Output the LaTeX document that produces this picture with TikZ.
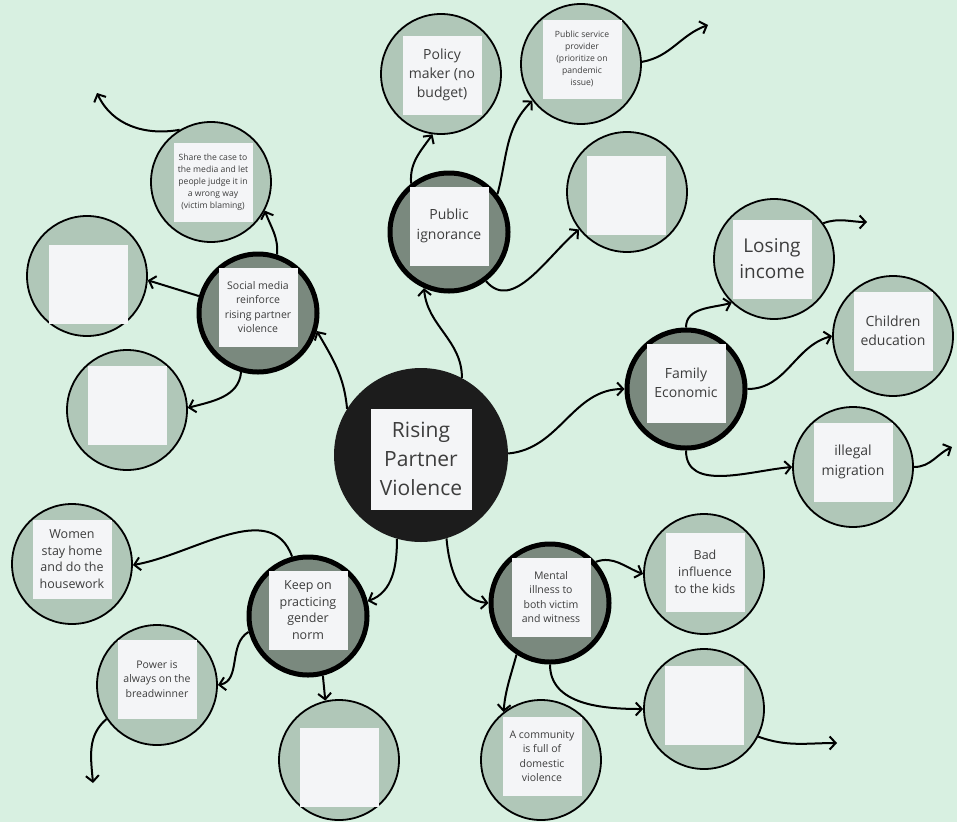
\documentclass[tikz,border=0pt]{standalone}
\usepackage{fontspec}
\setmainfont{Open Sans}
\usetikzlibrary{arrows.meta,positioning,shadows}

\definecolor{bg}{HTML}{D8F0E1}
\definecolor{leaffill}{HTML}{B0C7B8}
\definecolor{hubfill}{HTML}{7A897E}
\definecolor{corefill}{HTML}{1C1C1C}
\definecolor{cardfill}{HTML}{F4F5F7}
\definecolor{ink}{HTML}{3D3D3D}

\begin{document}
\begin{tikzpicture}[x=1pt,y=-1pt]
    \tikzset{
        leaf/.style         =   { circle
                                , draw=black
                                , line width=1.8pt
                                , fill=leaffill
                                , minimum size=120pt
                                , inner sep=0pt
                                }
        , hub/.style        =   { leaf
                                , line width=5pt
                                , fill=hubfill
                                , minimum size=118pt
                                }
        , core/.style       =   { circle
                                , fill=corefill
                                , minimum size=174pt
                                , inner sep=0pt
                                }
        , card/.style       =   { rectangle
                                , fill=cardfill
                                , text=ink
                                , align=center
                                , minimum size=79pt
                                , inner sep=0pt
                                , drop shadow={shadow xshift=0.8pt, shadow yshift=-0.8pt, fill=black, opacity=0.18}
                                }
        , tinytext/.style   =   { font=\fontsize{8.6}{12}\selectfont }
        , smalltext/.style  =   { font=\fontsize{10.5}{14.5}\selectfont }
        , midtext/.style    =   { font=\fontsize{12.5}{16.8}\selectfont }
        , bigtext/.style    =   { font=\fontsize{14}{19.3}\selectfont }
        , largetext/.style  =   { font=\fontsize{19}{26}\selectfont }
        , hugetext/.style   =   { font=\fontsize{21}{29}\selectfont }
        , arrow/.style      =   { line width=2pt
                                , -{Straight Barb[length=6pt,width=13pt]}
                                }
    }
    \useasboundingbox (0,0) rectangle (957,822);
    \fill[bg] (0,0) rectangle (957,822);

    % centre
    \node(1)[core] at (421,455) {};
    \node(c1)[card,hugetext,minimum size=101pt] at (421,459) {Rising\\Partner\\Violence};

    % social media branch
    \node(2)[hub] at (258,313) {};
    \node(c2)[card,smalltext] at (258,307) {Social media\\reinforce\\rising partner\\violence};
    \node(3)[leaf] at (211,182) {};
    \node(c3)[card,tinytext] at (213,182) {Share the case to\\the media and let\\people judge it in\\a wrong way\\(victim blaming)};
    \node(4)[leaf] at (87,276) {};
    \node(c4)[card] at (88,284) {};
    \node(5)[leaf] at (127,410) {};
    \node(c5)[card] at (127,405) {};

    % public ignorance branch
    \node(6)[hub] at (449,232) {};
    \node(c6)[card,bigtext] at (449,226) {Public\\ignorance};
    \node(7)[leaf] at (441,74) {};
    \node(c7)[card,bigtext] at (442,75) {Policy\\maker (no\\budget)};
    \node(8)[leaf] at (581,64) {};
    \node(c8)[card,tinytext] at (582,59) {Public service\\provider\\(prioritize on\\pandemic\\issue)};
    \node(9)[leaf] at (627,192) {};
    \node(c9)[card] at (626,195) {};

    % family economic branch
    \node(10)[hub] at (686,389) {};
    \node(c10)[card,bigtext] at (686,383) {Family\\Economic};
    \node(11)[leaf] at (774,259) {};
    \node(c11)[card,largetext] at (772,259) {Losing\\income};
    \node(12)[leaf] at (893,336) {};
    \node(c12)[card,bigtext] at (893,331) {Children\\education};
    \node(13)[leaf] at (853,467) {};
    \node(c13)[card,bigtext] at (853,462) {illegal\\migration};

    % gender norm branch
    \node(14)[hub] at (308,616) {};
    \node(c14)[card,midtext] at (308,610) {Keep on\\practicing\\gender\\norm};
    \node(15)[leaf] at (72,564) {};
    \node(c15)[card,midtext] at (72,559) {Women\\stay home\\and do the\\housework};
    \node(16)[leaf] at (157,685) {};
    \node(c16)[card,smalltext] at (157,679) {Power is\\always on the\\breadwinner};
    \node(17)[leaf] at (339,760) {};
    \node(c17)[card] at (339,767) {};

    % mental illness branch
    \node(18)[hub] at (550,603) {};
    \node(c18)[card,smalltext] at (551,597) {Mental\\illness to\\both victim\\and witness};
    \node(19)[leaf] at (704,574) {};
    \node(c19)[card,midtext] at (705,572) {Bad\\influence\\to the kids};
    \node(20)[leaf] at (704,709) {};
    \node(c20)[card] at (704,705) {};
    \node(21)[leaf] at (541,760) {};
    \node(c21)[card,smalltext] at (542,756) {A community\\is full of\\domestic\\violence};

    % loose ends
    \coordinate(e3) at (97,93);
    \coordinate(e8) at (708,25);
    \coordinate(e11) at (867,222);
    \coordinate(e13) at (952,447);
    \coordinate(e16) at (93,783);
    \coordinate(e20) at (837,743);

    \draw[arrow] (1.148) to[out=95,in=-60] (2.-17);
    \draw[arrow] (2.72) to[out=85,in=-70] (3.-28);
    \draw[arrow] (2.164) -- (4.-4);
    \draw[arrow] (2.-106) to[out=-95,in=15] (5.2);
    \draw[arrow] (3.121) to[out=190,in=-65] (e3);
    \draw[arrow] (1.62) to[out=90,in=-85] (6.-114);
    \draw[arrow] (6.128) to[out=95,in=-125] (7.-98);
    \draw[arrow] (6.38) to[out=75,in=-135] (8.-143);
    \draw[arrow] (6.-53) to[out=-50,in=-140] (9.-142);
    \draw[arrow] (8.2) to[out=10,in=200] (e8);
    \draw[arrow] (1.1) to[out=5,in=180] (10.180);
    \draw[arrow] (10.90) to[out=90,in=-165] (11.-134);
    \draw[arrow] (10.0) to[out=0,in=195] (12.180);
    \draw[arrow] (10.-90) to[out=-90,in=185] (13.180);
    \draw[arrow] (11.36) to[out=20,in=180] (e11);
    \draw[arrow] (13.0) to[out=0,in=-155] (e13);
    \draw[arrow] (1.-106) to[out=-90,in=20] (14.14);
    \draw[arrow] (14.105) to[out=110,in=10] (15.-1);
    \draw[arrow] (14.195) to[out=-150,in=10] (16.0);
    \draw[arrow] (14.-76) -- (17.103);
    \draw[arrow] (16.-146) to[out=-140,in=95] (e16);
    \draw[arrow] (1.-73) to[out=-85,in=175] (18.180);
    \draw[arrow] (18.42) to[out=20,in=160] (19.180);
    \draw[arrow] (18.-123) to[out=-105,in=85] (21.128);
    \draw[arrow] (18.-90) to[out=-90,in=180] (20.180);
    \draw[arrow] (20.-27) to[out=-20,in=180] (e20);
\end{tikzpicture}
\end{document}
